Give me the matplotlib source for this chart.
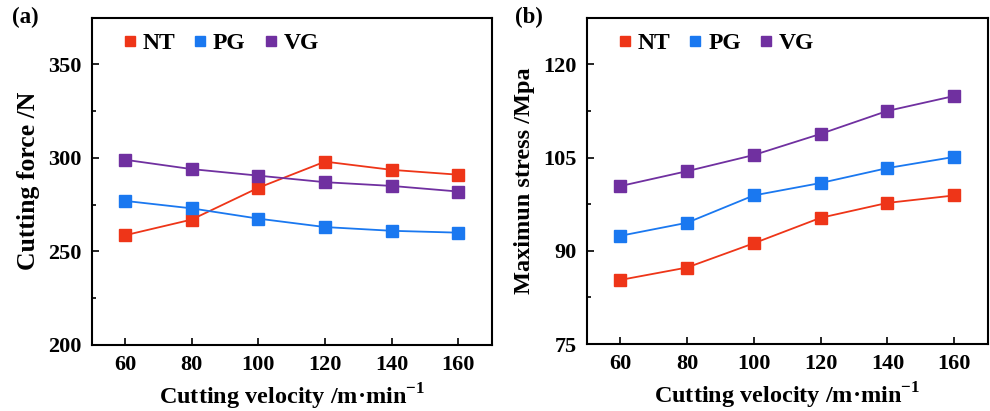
import matplotlib.pyplot as plt
from matplotlib.ticker import MultipleLocator

plt.rcParams['font.family'] = 'Liberation Serif'
plt.rcParams['font.weight'] = 'bold'
plt.rcParams['axes.labelweight'] = 'bold'
plt.rcParams['mathtext.fontset'] = 'custom'
plt.rcParams['mathtext.rm'] = 'Liberation Serif:bold'
plt.rcParams['mathtext.bf'] = 'Liberation Serif:bold'

velocity = [60, 80, 100, 120, 140, 160]

# (a) cutting force, N
force_nt = [258.6, 267, 284, 298, 293.6, 291]
force_pg = [277, 273, 267.5, 263, 261, 260]
force_vg = [299, 294, 290.5, 287, 285, 282]

# (b) maximum stress, MPa
stress_nt = [85.3, 87.3, 91.2, 95.3, 97.7, 98.9]
stress_pg = [92.4, 94.5, 98.9, 100.9, 103.3, 105.1]
stress_vg = [100.4, 102.8, 105.4, 108.8, 112.5, 114.9]

labels = ['NT', 'PG', 'VG']
colors = ['#ee3518', '#1a78f0', '#7030a0']

fig = plt.figure(figsize=(9.9, 4.11), dpi=100)
ax1 = fig.add_axes([0.0926, 0.161, 0.404, 0.796])
ax2 = fig.add_axes([0.5926, 0.163, 0.405, 0.794])


def draw(ax, series, ylim, step, ylabel, ysize, tag):
    for vals, lab, c in zip(series, labels, colors):
        ax.plot(velocity, vals, color=c, lw=1.3, marker='s', ms=8, label=lab)
    ax.set_xlim(50, 170)
    ax.set_ylim(*ylim)
    ax.xaxis.set_major_locator(MultipleLocator(20))
    ax.yaxis.set_major_locator(MultipleLocator(step))
    ax.yaxis.set_minor_locator(MultipleLocator(step / 2))
    ax.tick_params(direction='in', labelsize=16, length=5, width=1.2, pad=7)
    ax.tick_params(which='minor', direction='in', length=3, width=1.2)
    for s in ax.spines.values():
        s.set_linewidth(1.5)
    ax.set_xlabel('Cutting velocity /m·min$^{-1}$', fontsize=17.5, labelpad=5)
    ax.set_ylabel(ylabel, fontsize=ysize, labelpad=6)
    # legend shows only the square markers
    handles = [plt.Line2D([], [], ls='none', marker='s', ms=7, color=c) for c in colors]
    ax.legend(handles, labels, loc='upper left', ncol=3, frameon=False,
              fontsize=17, handlelength=0.5, handletextpad=0.3, columnspacing=0.8,
              borderpad=0, borderaxespad=0, bbox_to_anchor=(0.08, 0.955))
    ax.text(tag[1], 1.0, tag[0], transform=ax.transAxes, fontsize=16.5, va='center')


draw(ax1, [force_nt, force_pg, force_vg], (200, 375), 50, 'Cutting force /N', 18.5, ('(a)', -0.2))
draw(ax2, [stress_nt, stress_pg, stress_vg], (75, 127.5), 15, 'Maximun stress /Mpa', 17.5, ('(b)', -0.18))

fig.savefig('out.png', dpi=100)
